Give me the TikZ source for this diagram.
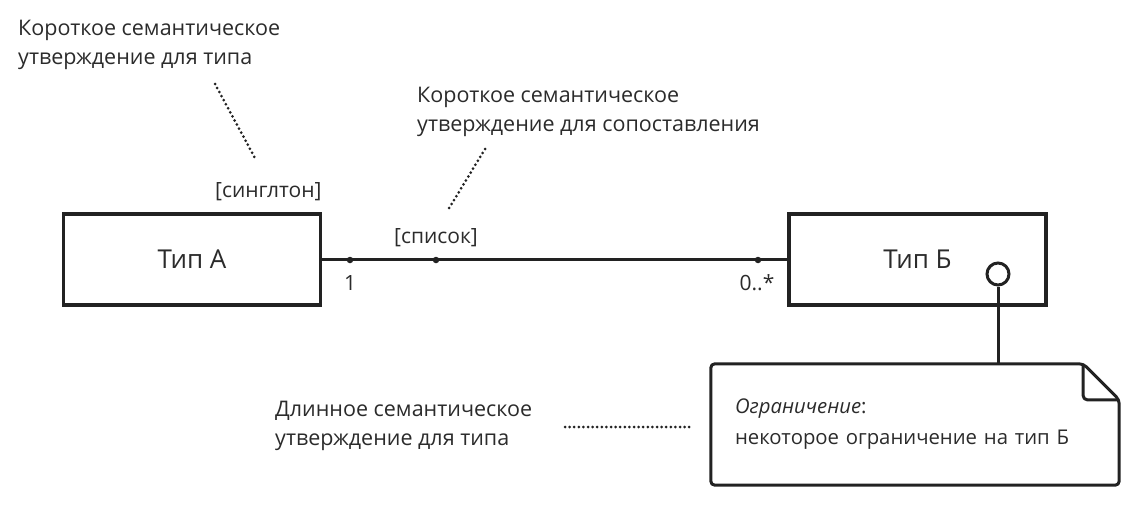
\documentclass[tikz,border=0pt]{standalone}
\usepackage{fontspec}
\setmainfont{Open Sans}
\usetikzlibrary{positioning,calc}

\begin{document}
\begin{tikzpicture}[x=1pt,y=-1pt]

	% ============================================================
	% COLORS
	% ============================================================
	\definecolor{ink}{HTML}{222222}
	\definecolor{txt}{HTML}{2B2B2B}

	% ============================================================
	% STYLES
	% ============================================================
	\tikzset{
		typeBox/.style={
			draw=ink,
			line width=3.6pt,
			minimum width=257pt,
			minimum height=91pt,
			inner sep=0pt,
			font=\fontsize{26}{30}\selectfont,
			text=txt
		},
		remark/.style={anchor=west, align=left, inner sep=0pt, text=txt, font=\fontsize{21.5}{28.5}\selectfont},
		tag/.style={inner sep=0pt, text=txt, font=\fontsize{21}{24}\selectfont},
		assoc/.style={draw=ink, line width=3.4pt},
		pin/.style={draw=ink, line width=3pt},
		dotline/.style={draw=ink, line width=3pt, line cap=round, dash pattern=on 0pt off 4.6pt},
		knot/.style={circle, fill=ink, inner sep=0pt, minimum size=6.5pt},
		noteBox/.style={
			minimum width=408pt,
			minimum height=121pt,
			text width=360pt,
			inner xsep=24pt,
			inner ysep=0pt,
			align=left,
			text=txt,
			font=\fontsize{20.3}{31}\selectfont
		},
		noteLine/.style={draw=ink, line width=3pt, rounded corners=4pt, line join=round}
	}

	\useasboundingbox (0,0) rectangle (1141,506);

	% ============================================================
	% TYPES
	% ============================================================
	\node[typeBox] (typeA) at (192, 259.5) {Тип А};
	\node[typeBox] (typeB) at (917.5, 259.5) {Тип Б};

	% ============================================================
	% ASSOCIATION
	% ============================================================
	\draw[assoc] (typeA.east) -- (typeB.west);
	\node[knot] (endA) at (350, 260) {};
	\node[knot] (midAssoc) at (436, 260) {};
	\node[knot] (endB) at (758, 260) {};

	\node[tag, anchor=base west] (singleton) at (215, 197) {[синглтон]};
	\node[tag, anchor=base] (listTag) at (436, 243) {[список]};
	\node[tag, anchor=base] (multA) at (350, 290) {1};
	\node[tag, anchor=base] (multB) at (757, 290) {0..*};

	% ============================================================
	% CONSTRAINT NOTE
	% ============================================================
	\node[circle, pin, minimum size=22pt, inner sep=0pt] (lolly) at (998, 274) {};
	\node[noteBox] (note) at (915, 424.5) {\textit{Ограничение}:\\некоторое ограничение на тип Б};
	\draw[noteLine] (note.north west) -- ($(note.north east)+(-36,0)$) -- ($(note.north east)+(0,36)$)
		-- (note.south east) -- (note.south west) -- cycle;
	\draw[noteLine] ($(note.north east)+(-36,0)$) -- ($(note.north east)+(-36,36)$) -- ($(note.north east)+(0,36)$);
	\draw[pin] (lolly.south) -- (lolly.south |- note.north);

	% ============================================================
	% SEMANTIC REMARKS
	% ============================================================
	\node[remark] (typeRemark) at (18, 45) {Короткое семантическое\\утверждение для типа};
	\node[remark] (assocRemark) at (417, 112) {Короткое семантическое\\утверждение для сопоставления};
	\node[remark] (longRemark) at (275, 426) {Длинное семантическое\\утверждение для типа};

	\coordinate (typeRemarkEnd) at (215, 84);
	\coordinate (singletonEnd) at (256, 160);
	\coordinate (assocRemarkEnd) at (485, 149);
	\coordinate (listEnd) at (448, 210);
	\coordinate (longRemarkEnd) at (565, 427);
	\coordinate (noteEnd) at (690, 427);

	\draw[dotline] (typeRemarkEnd) -- (singletonEnd);
	\draw[dotline] (assocRemarkEnd) -- (listEnd);
	\draw[dotline] (longRemarkEnd) -- (noteEnd);

\end{tikzpicture}
\end{document}
